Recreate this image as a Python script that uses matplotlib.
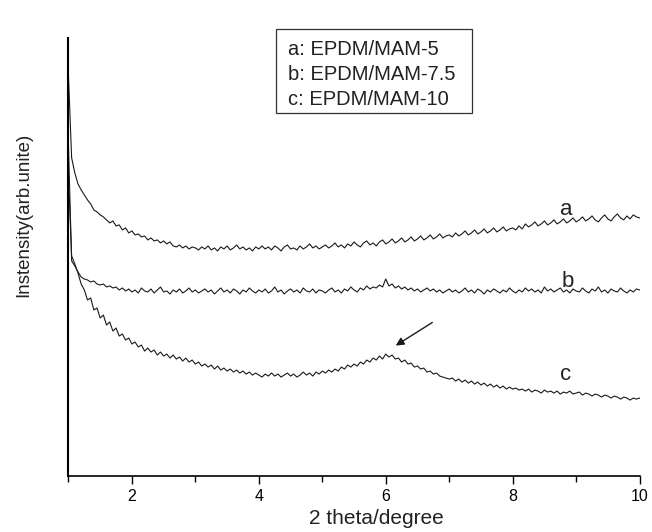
import numpy as np
import matplotlib
matplotlib.use("Agg")
import matplotlib.pyplot as plt
from matplotlib.patches import Rectangle
from matplotlib.ticker import MultipleLocator

plt.rcParams['font.family'] = ['Liberation Sans', 'DejaVu Sans']

# 2 theta grid, 0.05 degree step
two_theta = np.round(np.arange(1.0, 10.0001, 0.05), 2)

# intensities (arb. units)
curve_a = [
    400, 318, 303, 292, 286, 281, 276, 272, 266, 264,
    261, 259, 256, 253, 255, 250, 251, 246, 248, 243,
    245, 241, 242, 239, 240, 236, 238, 235, 236, 233,
    235, 232, 234, 230, 229, 231, 228, 230, 227, 229,
    228,
    226, 229, 227, 230, 226, 228, 225, 229, 227, 230,
    226, 228, 231, 227, 229, 226, 228, 225, 229, 227,
    230, 227, 229, 226, 230, 228, 225, 229, 231, 227,
    228, 226, 230, 227, 229, 232, 228, 230, 227,
    229,
    231, 228, 230, 233, 229, 231, 228, 232, 230, 234,
    231, 229, 233, 235, 231, 233, 230, 234, 236, 232,
    234, 237, 233, 235, 238, 234, 236, 239, 235, 237,
    240, 236, 238, 241, 237, 239, 242, 238, 240, 241,
    239, 243, 240, 242, 245, 241, 243, 246, 242, 244,
    247, 243, 245, 248, 244, 246, 249, 245, 247, 248,
    246, 250, 247, 252, 249, 251, 254, 250, 252, 255,
    251, 253, 256, 252, 254, 257, 253, 255, 258, 254,
    256, 259, 255, 257, 260, 256, 254, 258, 261, 257,
    255, 259, 262, 258, 256, 260, 257, 261, 259, 258,
]

curve_b = [
    330, 215, 210, 204, 199, 197, 196, 194, 195, 192,
    191, 192, 189, 190, 188, 189, 186, 188, 185, 187, 184,
    186, 183, 188, 185, 184, 187, 183, 186, 189, 184,
    185, 182, 186, 184, 187, 183, 185, 188, 184, 186,
    183, 185, 187, 184, 186, 182, 185, 188, 184, 186,
    183, 187, 185, 182, 186, 184, 188, 185, 183, 186,
    184, 187, 183, 185, 189, 184, 186, 182, 185, 187,
    184, 186, 183, 188, 185, 184, 187, 183, 186, 185,
    183, 186, 188, 184, 186, 183, 187, 185, 189, 186,
    184, 188, 186, 190, 187, 189, 188, 191, 189, 197,
    190, 192, 188, 190, 187, 189, 186, 188, 185, 187,
    184, 186, 188, 185, 187, 184, 186, 183, 185, 187,
    184, 186, 183, 185, 188, 184, 186, 183, 187, 185,
    182, 186, 184, 187, 185, 183, 186, 184, 188, 185,
    183, 186, 184, 188, 185, 187, 184, 186, 183, 189,
    185, 187, 184, 186, 188, 184, 186, 183, 187, 185,
    184, 188, 185, 183, 187, 185, 189, 184, 186, 183,
    187, 185, 184, 188, 185, 183, 186, 184, 187, 186,
]

curve_c = [
    300, 220, 212, 203, 192, 186, 176, 178, 166, 168,
    158, 161, 151, 154, 145, 148, 140, 142, 136, 138, 132,
    134, 129, 131, 125, 128, 124, 126, 121, 124, 120,
    122, 118, 121, 117, 119, 115, 118, 114, 116, 112,
    114, 110, 112, 109, 111, 107, 110, 106, 108, 105,
    107, 104, 106, 103, 105, 102, 104, 101, 103, 101,
    99, 102, 100, 103, 100, 102, 99, 101, 103, 100,
    102, 99, 101, 104, 101, 103, 100, 104, 102, 105,
    103, 106, 104, 107, 105, 109, 107, 111, 109, 112,
    110, 114, 112, 116, 114, 118, 116, 120, 117, 122,
    119, 121, 117, 118, 114, 116, 112, 113, 109, 110,
    107, 108, 104, 105, 102, 103, 100, 99, 98, 97,
    98, 95, 97, 94, 96, 93, 95, 92, 94, 91,
    93, 90, 92, 89, 91, 88, 90, 87, 89, 87,
    88, 86, 87, 85, 87, 84, 86, 85, 83, 86,
    84, 85, 83, 85, 82, 84, 83, 85, 82, 83,
    84, 81, 83, 82, 80, 82, 81, 79, 81, 80,
    78, 80, 79, 77, 79, 78, 76, 78, 77, 78,
]

series = [curve_a, curve_b, curve_c]
curve_tags = ['a', 'b', 'c']
series_labels = ['a: EPDM/MAM-5', 'b: EPDM/MAM-7.5', 'c: EPDM/MAM-10']
tag_pos = [(8.85, 261), (8.87, 189), (8.83, 96)]

fig = plt.figure(figsize=(6.52, 5.32), dpi=100)
ax = fig.add_axes([0.105, 0.105, 0.876, 0.824])

for ys in series:
    ax.plot(two_theta, ys, color='#1a1a1a', lw=0.8)

for tag, (tx, ty) in zip(curve_tags, tag_pos):
    ax.text(tx, ty, tag, fontsize=16, ha='center', va='baseline', color='#222222')

# arrow pointing at the broad peak of c
ax.annotate('', xy=(6.12, 129), xytext=(6.77, 155),
            arrowprops=dict(arrowstyle='-|>', color='#1a1a1a', lw=1.0,
                            mutation_scale=12))

# legend box (text only, no line samples)
ax.add_patch(Rectangle((4.27, 363), 3.09, 84, fill=False, ec='#333333',
                       lw=0.9, clip_on=False))
for i, lab in enumerate(series_labels):
    ax.text(4.46, 421 - 25 * i, lab, fontsize=14.5, ha='left', va='baseline',
            color='#222222', clip_on=False)

ax.set_xlim(1, 10)
ax.set_ylim(0, 438)
ax.xaxis.set_major_locator(MultipleLocator(2))
ax.xaxis.set_minor_locator(MultipleLocator(1))
ax.set_yticks([])
ax.tick_params(axis='x', which='major', direction='out', length=6, width=1, labelsize=11.5)
ax.tick_params(axis='x', which='minor', direction='out', length=4, width=1)
ax.spines['top'].set_visible(False)
ax.spines['right'].set_visible(False)
ax.spines['left'].set_linewidth(1.5)
ax.spines['bottom'].set_linewidth(1.2)

ax.set_xlabel('2 theta/degree', fontsize=15, color='#222222')
ax.xaxis.set_label_coords(0.539, -0.075)
ax.set_ylabel('Instensity(arb.unite)', fontsize=13.5, color='#222222')
ax.yaxis.set_label_coords(-0.063, 0.596)

fig.savefig('out.png', dpi=100)
